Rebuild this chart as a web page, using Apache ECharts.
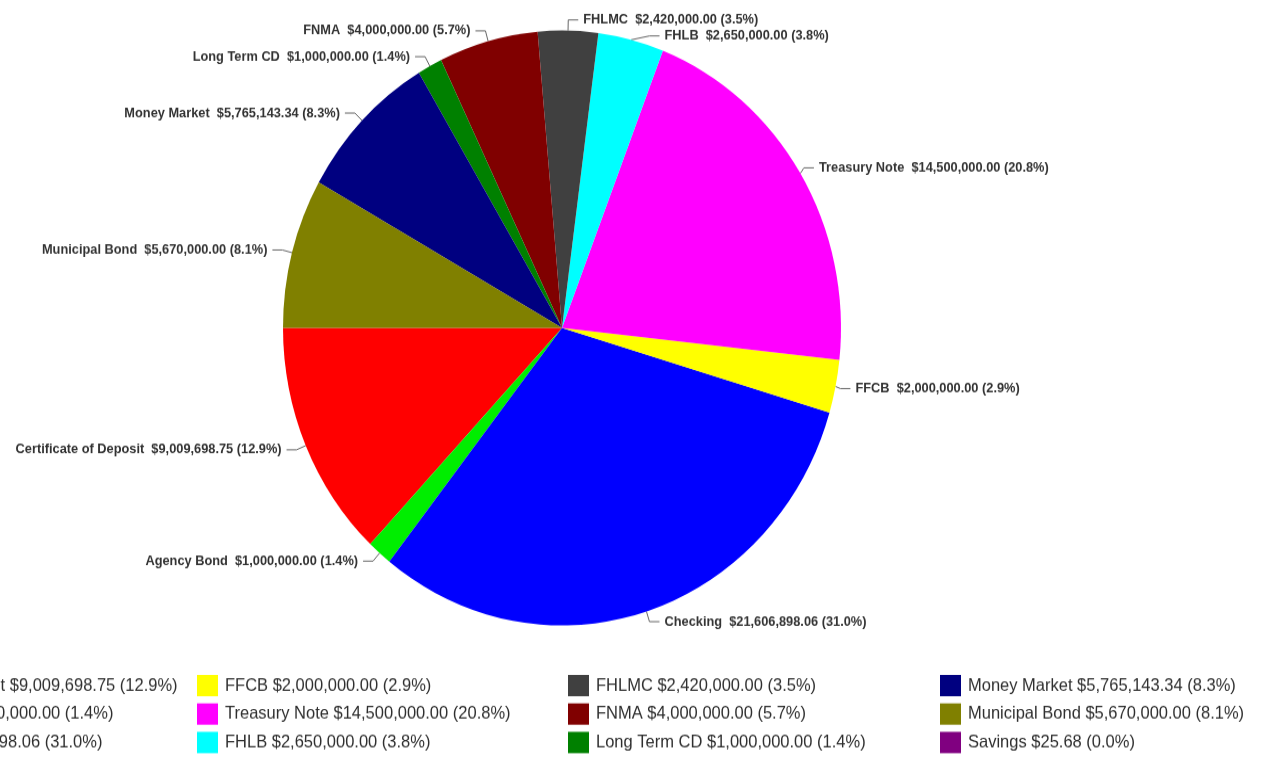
<!DOCTYPE html>
<html><head><meta charset="utf-8">
<script src="https://cdn.jsdelivr.net/npm/echarts@6/dist/echarts.min.js"></script>
<style>
html,body{margin:0;padding:0;background:#fff;overflow:hidden}
#wrap{width:1264px;height:757px;overflow:hidden;position:relative}
#c{width:1264px;height:710px;transform:scaleY(1.0662);transform-origin:0 0}
</style></head><body>
<div id="wrap"><div id="c"></div></div>
<script>
const categories = ['Certificate of Deposit','Agency Bond','Checking','FFCB','Treasury Note','FHLB','FHLMC','FNMA','Long Term CD','Money Market','Municipal Bond','Savings'];
const values = [9009698.75, 1000000.00, 21606898.06, 2000000.00, 14500000.00, 2650000.00, 2420000.00, 4000000.00, 1000000.00, 5765143.34, 5670000.00, 25.68];
const legendColumns = [
  ['Certificate of Deposit','Agency Bond','Checking'],
  ['FFCB','Treasury Note','FHLB'],
  ['FHLMC','FNMA','Long Term CD'],
  ['Money Market','Municipal Bond','Savings']
];

const palette = ['#ff0000','#00ee00','#0000ff','#ffff00','#ff00ff','#00ffff','#404040','#800000','#008000','#000080','#808000','#800080'];
const total = values.reduce((a,b)=>a+b,0);
function money(v){
  const parts = v.toFixed(2).split('.');
  parts[0] = parts[0].replace(/\B(?=(\d{3})+(?!\d))/g, ',');
  return '$' + parts.join('.');
}
function pct(v){ return (v/total*100).toFixed(1) + '%'; }
const valueOf = {};
categories.forEach((c,i)=>{ valueOf[c] = values[i]; });

const chart = echarts.init(document.getElementById('c'), null, {renderer:'canvas'});
const colLeft = [-176, 197, 568, 940];
const legends = legendColumns.map((col, i) => ({
  orient: 'vertical',
  left: colLeft[i],
  top: 633,
  padding: 0,
  height: 76,
  data: col,
  itemWidth: 21,
  itemHeight: 20,
  itemGap: 6.7,
  icon: 'rect',
  selectedMode: false,
  textStyle: {fontFamily: 'Liberation Sans, Arial, sans-serif', fontSize: 16.5, color: '#2f2f2f', lineHeight: 20, padding:[0,0,0,2]},
  formatter: name => name + ' ' + money(valueOf[name]) + ' (' + pct(valueOf[name]) + ')'
}));

chart.setOption({
  animation: false,
  backgroundColor: '#fff',
  color: palette,
  legend: legends,
  series: [{
    type: 'pie',
    center: [562, 307.6],
    radius: 279,
    startAngle: 180,
    clockwise: false,
    avoidLabelOverlap: true,
    itemStyle: {borderWidth: 0},
    label: {
      show: true,
      position: 'outside',
      fontFamily: 'Liberation Sans, Arial, sans-serif',
      fontSize: 12.8,
      fontWeight: 'bold',
      color: '#333',
      formatter: p => p.name + '  ' + money(p.value) + ' (' + pct(p.value) + ')'
    },
    labelLine: {show: true, length: 10, length2: 10, lineStyle: {color: '#666', width: 1}},
    data: categories.map((c,i)=>({
      name: c, value: values[i],
      label: c === 'Savings' ? {show:false} : undefined,
      labelLine: c === 'Savings' ? {show:false} : undefined
    }))
  }]
});
</script>
</body></html>
